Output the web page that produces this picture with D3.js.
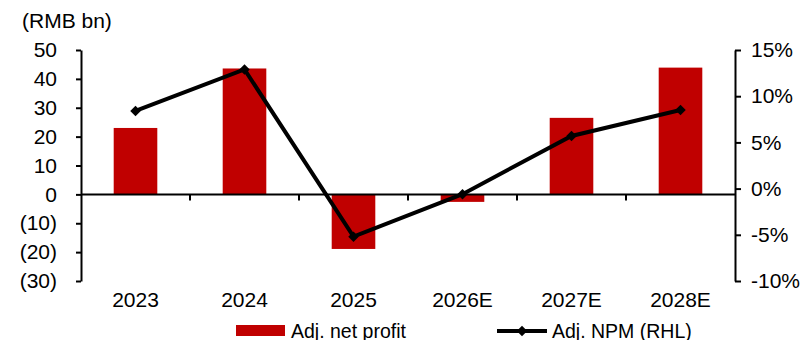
<!DOCTYPE html>
<html>
<head>
<meta charset="utf-8">
<script src="https://cdn.jsdelivr.net/npm/d3@7"></script>
<style>
  html, body { margin: 0; padding: 0; background: #fff; }
  svg { display: block; font-family: "Liberation Sans", Arial, sans-serif; }
</style>
</head>
<body>
<svg id="chart" width="804" height="340"></svg>
<script>
// Adjusted net profit (RMB bn) and adjusted net profit margin (%)
const categories = ["2023", "2024", "2025", "2026E", "2027E", "2028E"];
const netProfit = [23.0, 43.6, -18.9, -2.6, 26.5, 43.9];
const npm = [8.4, 12.9, -5.2, -0.6, 5.7, 8.5];
const leftTicks = [-30, -20, -10, 0, 10, 20, 30, 40, 50];
const rightTicks = [-10, -5, 0, 5, 10, 15];

const svg = d3.select("#chart");
const axisFont = 21;
const legendFont = 19.5;
const plotLeft = 81, plotRight = 735, plotTop = 50, plotBottom = 281;

const xBand = d3.scaleBand().domain(categories).range([plotLeft, plotRight]);
const barWidth = xBand.bandwidth() * 0.4;
const yL = d3.scaleLinear().domain([-30, 50]).range([plotBottom, plotTop]);
const yR = d3.scaleLinear().domain([-10, 15]).range([plotBottom, plotTop]);

const fmtL = v => v < 0 ? `(${Math.abs(v)})` : `${v}`;
const fmtR = v => `${v}%`;

// bars
svg.append("g").selectAll("rect").data(netProfit).join("rect")
  .attr("x", (d, i) => xBand(categories[i]) + (xBand.bandwidth() - barWidth) / 2)
  .attr("width", barWidth)
  .attr("y", d => yL(Math.max(0, d)))
  .attr("height", d => Math.abs(yL(d) - yL(0)))
  .attr("fill", "#C00000");

// left axis
const gL = svg.append("g").attr("transform", `translate(${plotLeft},0)`)
  .call(d3.axisLeft(yL).tickValues(leftTicks).tickFormat(fmtL).tickSize(5).tickSizeOuter(0).tickPadding(19));
gL.select(".domain").attr("stroke", "#000").attr("stroke-width", 2);
gL.selectAll(".tick line").attr("stroke", "#000").attr("stroke-width", 2);
gL.selectAll("text").attr("font-size", axisFont).attr("fill", "#000").attr("font-family", "Liberation Sans, Arial, sans-serif");

// right axis
const gR = svg.append("g").attr("transform", `translate(${plotRight},0)`)
  .call(d3.axisRight(yR).tickValues(rightTicks).tickFormat(fmtR).tickSize(6).tickSizeOuter(0).tickPadding(10));
gR.select(".domain").attr("stroke", "#000").attr("stroke-width", 2);
gR.selectAll(".tick line").attr("stroke", "#000").attr("stroke-width", 2);
gR.selectAll("text").attr("font-size", axisFont).attr("fill", "#000").attr("font-family", "Liberation Sans, Arial, sans-serif");

// x axis along zero
const y0 = yL(0);
svg.append("line").attr("x1", plotLeft).attr("x2", plotRight).attr("y1", y0).attr("y2", y0)
  .attr("stroke", "#000").attr("stroke-width", 2);
svg.append("g").selectAll("line").data(categories.slice(1)).join("line")
  .attr("x1", d => xBand(d)).attr("x2", d => xBand(d))
  .attr("y1", y0).attr("y2", y0 + 6)
  .attr("stroke", "#000").attr("stroke-width", 2);
svg.append("g").selectAll("text").data(categories).join("text")
  .attr("x", d => xBand(d) + xBand.bandwidth() / 2)
  .attr("y", 307)
  .attr("text-anchor", "middle")
  .attr("font-size", axisFont)
  .text(d => d);

// unit label
svg.append("text").attr("x", 22).attr("y", 28).attr("font-size", axisFont).text("(RMB bn)");

// margin line with diamond markers
const cx = i => xBand(categories[i]) + xBand.bandwidth() / 2;
const line = d3.line().x((d, i) => cx(i)).y(d => yR(d));
svg.append("path").datum(npm).attr("d", line)
  .attr("fill", "none").attr("stroke", "#000").attr("stroke-width", 4).attr("stroke-linejoin", "miter");
const diamond = d3.symbol().type(d3.symbolDiamond2).size(70);
svg.append("g").selectAll("path").data(npm).join("path")
  .attr("transform", (d, i) => `translate(${cx(i)},${yR(d)})`)
  .attr("d", diamond).attr("fill", "#000");

// legend
const lg = svg.append("g");
lg.append("rect").attr("x", 236).attr("y", 325).attr("width", 49).attr("height", 11).attr("fill", "#C00000");
lg.append("text").attr("x", 291).attr("y", 338).attr("font-size", legendFont).text("Adj. net profit");
lg.append("line").attr("x1", 497).attr("x2", 547).attr("y1", 331).attr("y2", 331)
  .attr("stroke", "#000").attr("stroke-width", 4);
lg.append("path").attr("transform", "translate(522,331)").attr("d", diamond).attr("fill", "#000");
lg.append("text").attr("x", 552).attr("y", 338).attr("font-size", legendFont).text("Adj. NPM (RHL)");
</script>
</body>
</html>
